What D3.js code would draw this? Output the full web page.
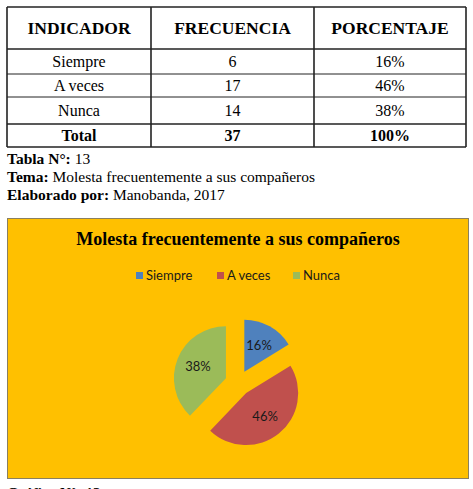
<!DOCTYPE html>
<html>
<head>
<meta charset="utf-8">
<script src="https://cdn.jsdelivr.net/npm/d3@7"></script>
<style>
  body { margin: 0; background: #fff; }
  svg { display: block; }
</style>
</head>
<body>
<svg id="page" width="473" height="489"></svg>
<script>
// data
let categories = ["Siempre", "A veces", "Nunca"];
let frequencies = [6, 17, 14];
let percentages = ["16%", "46%", "38%"];
let headers = ["INDICADOR", "FRECUENCIA", "PORCENTAJE"];
let totalRow = ["Total", "37", "100%"];
let colors = ["#4F81BD", "#C0504D", "#9BBB59"];

let svg = d3.select("#page");
let serif = "'Liberation Serif', 'Times New Roman', serif";
let sans = "Lato, 'Noto Sans', sans-serif";

// ---- table ----
let colEdges = [7, 151, 314, 466];
let rowEdges = [7, 49, 74, 97, 124, 147];
let rows = [headers].concat(categories.map((c, i) => [c, String(frequencies[i]), percentages[i]])).concat([totalRow]);

let table = svg.append("g");
rows.forEach((row, r) => {
    let bold = (r === 0 || r === rows.length - 1);
    row.forEach((txt, c) => {
        table.append("text")
            .attr("x", (colEdges[c] + colEdges[c + 1]) / 2)
            .attr("y", (rowEdges[r] + rowEdges[r + 1]) / 2 + 5.5)
            .attr("text-anchor", "middle")
            .style("font-family", serif)
            .style("font-size", r === 0 ? "17.5px" : "16px")
            .style("font-weight", bold ? "bold" : "normal")
            .style("fill", "#000")
            .text(txt);
    });
});
rowEdges.forEach((y, i) => {
    table.append("line")
        .attr("x1", colEdges[0]).attr("x2", colEdges[3])
        .attr("y1", y).attr("y2", y)
        .attr("stroke", "#222")
        .attr("stroke-width", (i === 0 || i === 1 || i === 4 || i === 5) ? 1.6 : 1);
});
colEdges.forEach(x => {
    table.append("line")
        .attr("x1", x).attr("x2", x)
        .attr("y1", rowEdges[0]).attr("y2", rowEdges[5])
        .attr("stroke", "#222")
        .attr("stroke-width", 1.6);
});

// ---- captions ----
let captions = [["Tabla N°: ", "13"], ["Tema: ", "Molesta frecuentemente a sus compañeros"], ["Elaborado por: ", "Manobanda, 2017"]];
let captionY = [164, 182, 200];
captions.forEach((cap, i) => {
    let t = svg.append("text")
        .attr("x", 7)
        .attr("y", captionY[i])
        .style("font-family", serif)
        .style("font-size", "15.5px")
        .style("fill", "#000");
    t.append("tspan").style("font-weight", "bold").text(cap[0]);
    t.append("tspan").text(cap[1]);
});

// ---- chart box ----
svg.append("rect")
    .attr("x", 7.5).attr("y", 218.5)
    .attr("width", 461).attr("height", 260)
    .attr("fill", "#FFC000")
    .attr("stroke", "#8a8060")
    .attr("stroke-width", 1);

svg.append("text")
    .attr("x", 238)
    .attr("y", 245)
    .attr("text-anchor", "middle")
    .style("font-family", serif)
    .style("font-size", "18px")
    .style("font-weight", "bold")
    .style("fill", "#000")
    .text("Molesta frecuentemente a sus compañeros");

// legend
let legendX = [136, 217, 293];
let legend = svg.append("g");
categories.forEach((c, i) => {
    legend.append("rect")
        .attr("x", legendX[i]).attr("y", 272)
        .attr("width", 7).attr("height", 7)
        .attr("fill", colors[i]);
    legend.append("text")
        .attr("x", legendX[i] + 10)
        .attr("y", 280)
        .style("font-family", sans)
        .style("font-size", "13px")
        .style("fill", "#1a1a1a")
        .text(c);
});

// pie, every slice pulled out from the centre
let cx = 238, cy = 383, radius = 52, explode = 13;
let pie = d3.pie().sort(null)(frequencies);
let arc = d3.arc().innerRadius(0).outerRadius(radius);
let labelArc = d3.arc().innerRadius(radius * 0.58).outerRadius(radius * 0.58);

let slices = svg.append("g")
    .attr("transform", "translate(" + cx + "," + cy + ")")
    .selectAll("g")
    .data(pie)
    .enter()
    .append("g")
    .attr("transform", d => {
        let mid = (d.startAngle + d.endAngle) / 2;
        return "translate(" + (Math.sin(mid) * explode) + "," + (-Math.cos(mid) * explode) + ")";
    });

slices.append("path")
    .attr("d", arc)
    .attr("fill", (d, i) => colors[i]);

slices.append("text")
    .attr("transform", d => "translate(" + labelArc.centroid(d) + ")")
    .attr("text-anchor", "middle")
    .attr("dy", "0.35em")
    .style("font-family", sans)
    .style("font-size", "13px")
    .style("fill", "#1a1a1a")
    .text((d, i) => percentages[i]);

// caption below the chart, cut by the page edge as in the reference
svg.append("text")
    .attr("x", 7)
    .attr("y", 498)
    .style("font-family", serif)
    .style("font-size", "15px")
    .style("font-weight", "bold")
    .style("fill", "#000")
    .text("Gráfico N°: 13");
</script>
</body>
</html>
